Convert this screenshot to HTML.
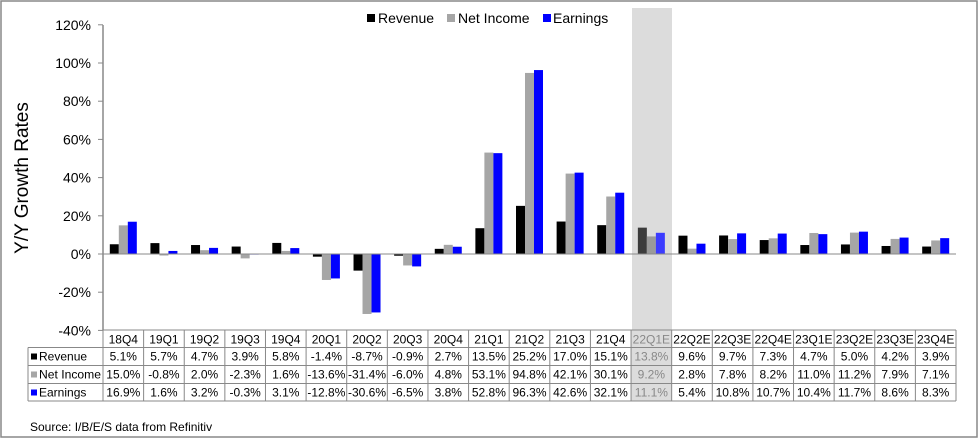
<!DOCTYPE html>
<html><head><meta charset="utf-8"><style>
body{margin:0;background:#fff}
svg{display:block;font-family:"Liberation Sans",Arial,sans-serif}
</style></head><body>
<svg id="s" width="980" height="444" viewBox="0 0 980 444" xmlns="http://www.w3.org/2000/svg">
<rect x="1" y="1" width="976" height="436" fill="#fff" stroke="#888" stroke-width="1.5"/>
<rect x="632" y="8" width="40" height="322" fill="#dcdcdc"/>
<g id="bars"></g>
<line x1="103" y1="25" x2="103" y2="330" stroke="#888" stroke-width="1.5"/>
<line x1="103" y1="254" x2="956" y2="254" stroke="#888" stroke-width="1"/>
<g id="ticks" font-size="14" fill="#000" text-anchor="end"></g>
<text transform="translate(28,178) rotate(-90)" font-size="19" text-anchor="middle">Y/Y Growth Rates</text>
<g font-size="14">
<rect x="367" y="14" width="8" height="8" fill="#000"/><text x="378" y="23">Revenue</text>
<rect x="447" y="14" width="8" height="8" fill="#a6a6a6"/><text x="458" y="23">Net Income</text>
<rect x="543" y="14" width="8" height="8" fill="#0000ff"/><text x="553" y="23">Earnings</text>
</g>
<g id="table" font-size="12"></g>
<text x="30" y="431" font-size="12">Source: I/B/E/S data from Refinitiv</text>
</svg>
<script>
var NS="http://www.w3.org/2000/svg";
function el(p,t,a,txt){var e=document.createElementNS(NS,t);for(var k in a)e.setAttribute(k,a[k]);if(txt!=null)e.textContent=txt;p.appendChild(e);return e;}
var q=["18Q4","19Q1","19Q2","19Q3","19Q4","20Q1","20Q2","20Q3","20Q4","21Q1","21Q2","21Q3","21Q4","22Q1E","22Q2E","22Q3E","22Q4E","23Q1E","23Q2E","23Q3E","23Q4E"];
var R=[5.1,5.7,4.7,3.9,5.8,-1.4,-8.7,-0.9,2.7,13.5,25.2,17.0,15.1,13.8,9.6,9.7,7.3,4.7,5.0,4.2,3.9];
var N=[15.0,-0.8,2.0,-2.3,1.6,-13.6,-31.4,-6.0,4.8,53.1,94.8,42.1,30.1,9.2,2.8,7.8,8.2,11.0,11.2,7.9,7.1];
var E=[16.9,1.6,3.2,-0.3,3.1,-12.8,-30.6,-6.5,3.8,52.8,96.3,42.6,32.1,11.1,5.4,10.8,10.7,10.4,11.7,8.6,8.3];
var n=q.length,x0=103,x1=956,cw=(x1-x0)/n;
var Y=function(v){return 254-v*1.91;};
var bars=document.getElementById("bars");
for(var i=0;i<n;i++){
 var cx=x0+cw*i+cw/2;var hl=(i==13);
 var cols=hl?["#3c3c3c","#9a9a9a","#3c3cff"]:["#000","#a6a6a6","#0000ff"];
 [R,N,E].forEach(function(a,j){var v=a[i];var y=Y(Math.max(v,0)),h=Math.abs(v)*1.91;
  el(bars,"rect",{x:cx-13.5+j*9,y:y,width:9,height:Math.max(h,0.5),fill:cols[j]});});
}
var tk=document.getElementById("ticks");
for(var v=120;v>=-40;v-=20){var y=Y(v);el(tk,"line",{x1:98,y1:y,x2:103,y2:y,stroke:"#888"});el(tk,"text",{x:91,y:y+5},v+"%");}
var tb=document.getElementById("table");
var rows=[330,347.5,365.5,383.5,401];
el(tb,"rect",{x:x0+cw*13,y:330,width:cw,height:71,fill:"#dcdcdc"});
el(tb,"line",{x1:x0,y1:330,x2:x1,y2:330,stroke:"#888"});
for(var r=1;r<5;r++)el(tb,"line",{x1:28,y1:rows[r],x2:x1,y2:rows[r],stroke:"#888"});
el(tb,"line",{x1:28,y1:347.5,x2:28,y2:401,stroke:"#888"});
for(var i=0;i<=n;i++){var x=x0+cw*i;el(tb,"line",{x1:x,y1:330,x2:x,y2:401,stroke:"#888"});}
var labs=["Revenue","Net Income","Earnings"],lc=["#000","#a6a6a6","#0000ff"];
for(var r=0;r<3;r++){el(tb,"rect",{x:31,y:rows[r+1]+6,width:6,height:6,fill:lc[r]});var t=el(tb,"text",{x:39,y:rows[r+1]+13},labs[r]);if(r==1){t.setAttribute("textLength","62");t.setAttribute("lengthAdjust","spacingAndGlyphs");}}
for(var i=0;i<n;i++){var cx=x0+cw*i+cw/2;var c=(i==13)?"#888":"#000";
 el(tb,"text",{x:cx,y:343.5,"text-anchor":"middle",fill:c},q[i]);
 [R,N,E].forEach(function(a,j){el(tb,"text",{x:cx,y:rows[j+1]+13,"text-anchor":"middle",fill:c},a[i].toFixed(1)+"%");});
}
</script>
</body></html>
